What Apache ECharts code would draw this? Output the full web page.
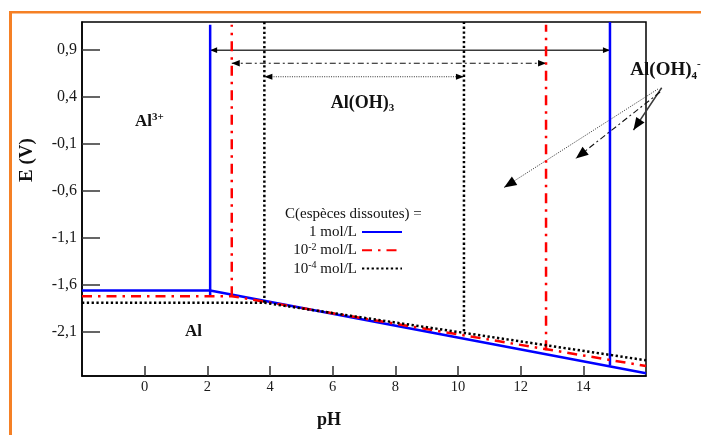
<!DOCTYPE html>
<html>
<head>
<meta charset="utf-8">
<script src="https://cdn.jsdelivr.net/npm/echarts@6.0.0/dist/echarts.min.js"></script>
<style>
html, body { margin: 0; padding: 0; background: #fff; }
#chart { width: 701px; height: 435px; }
</style>
</head>
<body>
<div id="chart"></div>
<script>
// one entry per total dissolved concentration
var concNames = ['1 mol/L', '10-2 mol/L', '10-4 mol/L'];
var concColors = ['#0000ff', '#ff0000', '#000000'];
var eAl3 = [-1.66, -1.72, -1.79];            // Al3+/Al plateau (V)
var pHprecip = [2.09, 2.78, 3.82];           // Al3+ -> Al(OH)3
var pHdissol = [14.85, 12.81, 10.19];        // Al(OH)3 -> Al(OH)4-
var eAtDissol = [-2.457, -2.297, -2.094];    // foot of the right vertical
var eAtRightEdge = [-2.54, -2.464, -2.403];  // E at pH 16
var eLeftFoot = [-1.72, -1.72, -1.79];
var eLeftTop = [1.17, 1.17, 1.2];
var eRightTop = [1.2, 1.17, 1.2];

// double arrows spanning the Al(OH)3 domain
var spanArrowE = [0.9, 0.76, 0.617];
// arrows from the Al(OH)4- label
var pointerFrom = [[16.5, 0.5], [16.45, 0.454], [16.38, 0.486]];
var pointerTo = [[15.6, 0.049], [13.76, -0.253], [11.47, -0.562]];

var yTicks = [-2.1, -1.6, -1.1, -0.6, -0.1, 0.4, 0.9];
var speciesText = ['Al{sup|3+}', 'Al(OH){sub|3}', 'Al(OH){sub|4}{sup|-}', 'Al'];
var speciesPos = [[-0.31, 0.134], [5.94, 0.336], [15.5, 0.688], [1.29, -2.102]];
var speciesSize = [17, 18, 19, 17];

var serif = '"Liberation Serif", "DejaVu Serif", serif';
var lineDash = ['solid', [10, 6, 2.5, 6], [2.3, 2.5]];
var arrowLine = [
  { stroke: '#3a3a3a', lineWidth: 1.5, lineDash: null },
  { stroke: '#111', lineWidth: 1.1, lineDash: [6, 3, 2, 3] },
  { stroke: '#333', lineWidth: 1, lineDash: [1, 1.3] }
];
var spanHead = [[7, 2.8], [8, 3.2], [8, 3]];

var series = [];
concNames.forEach(function (name, i) {
  var ls = { color: concColors[i], width: 2.5, type: lineDash[i] };
  var parts = [
    [[-2, eAl3[i]], [pHprecip[i], eAl3[i]], [16, eAtRightEdge[i]]],
    [[pHprecip[i], eLeftFoot[i]], [pHprecip[i], eLeftTop[i]]],
    [[pHdissol[i], eAtDissol[i]], [pHdissol[i], eRightTop[i]]]
  ];
  parts.forEach(function (d) {
    series.push({
      name: name, type: 'line', data: d, symbol: 'none',
      lineStyle: ls, itemStyle: { color: concColors[i] },
      animation: false, silent: true
    });
  });
});

function head(tip, from, len, half) {
  var dx = tip[0] - from[0], dy = tip[1] - from[1];
  var d = Math.sqrt(dx * dx + dy * dy);
  var ux = dx / d, uy = dy / d;
  var bx = tip[0] - ux * len, by = tip[1] - uy * len;
  return {
    type: 'polygon',
    shape: { points: [tip, [bx - uy * half, by + ux * half], [bx + uy * half, by - ux * half]] },
    style: { fill: '#000' }
  };
}

var arrowData = [];
for (var i = 0; i < 3; i++) {
  arrowData.push([pHprecip[i], spanArrowE[i], pHdissol[i], spanArrowE[i], i, 2]);
  arrowData.push([pointerFrom[i][0], pointerFrom[i][1], pointerTo[i][0], pointerTo[i][1], i, 1]);
}

series.push({
  type: 'custom',
  data: arrowData,
  animation: false, silent: true,
  renderItem: function (params, api) {
    var p1 = api.coord([api.value(0), api.value(1)]);
    var p2 = api.coord([api.value(2), api.value(3)]);
    var k = api.value(4);
    var both = api.value(5) === 2;
    var st = arrowLine[k];
    var hs = both ? spanHead[k] : [12.5, 5];
    var children = [{
      type: 'line',
      shape: { x1: p1[0], y1: p1[1], x2: p2[0], y2: p2[1] },
      style: { stroke: st.stroke, lineWidth: st.lineWidth, lineDash: st.lineDash }
    }, head(p2, p1, hs[0], hs[1])];
    if (both) children.push(head(p1, p2, hs[0], hs[1]));
    return { type: 'group', children: children };
  }
});

series.push({
  type: 'custom',
  data: speciesPos.map(function (p, i) { return [p[0], p[1], i]; }),
  animation: false, silent: true,
  renderItem: function (params, api) {
    var p = api.coord([api.value(0), api.value(1)]);
    var k = api.value(2);
    var fs = speciesSize[k];
    return {
      type: 'text', x: p[0], y: p[1],
      style: {
        text: speciesText[k], fill: '#111',
        fontFamily: serif, fontWeight: 'bold', fontSize: fs, lineHeight: fs + 4,
        align: 'left', verticalAlign: 'middle',
        rich: {
          sup: { fontFamily: serif, fontWeight: 'bold', fontSize: 11, lineHeight: 11, verticalAlign: 'top', fill: '#111' },
          sub: { fontFamily: serif, fontWeight: 'bold', fontSize: 11, lineHeight: 11, verticalAlign: 'bottom', fill: '#111' }
        }
      }
    };
  }
});

var chart = echarts.init(document.getElementById('chart'));
chart.setOption({
  animation: false,
  backgroundColor: '#fff',
  title: {
    text: 'C(espèces dissoutes) =',
    left: 285, top: 207, padding: 0,
    textStyle: { fontFamily: serif, fontWeight: 'normal', fontSize: 15, color: '#111' }
  },
  legend: {
    data: concNames,
    orient: 'vertical',
    align: 'right',
    left: 285, top: 224, padding: 0,
    itemWidth: 40, itemHeight: 14, itemGap: 2.3,
    selectedMode: false,
    itemStyle: { opacity: 0 },
    formatter: function (n) {
      var m = n.match(/^10(-\d) (.*)$/);
      if (m) return '{n|10}{s|' + m[1] + '}{n| ' + m[2] + '}';
      return '{n|' + n + '}';
    },
    textStyle: {
      fontFamily: serif, fontSize: 15, color: '#111', width: 72, lineHeight: 16,
      rich: {
        n: { fontFamily: serif, fontSize: 15, lineHeight: 16, align: 'right', color: '#111' },
        s: { fontFamily: serif, fontSize: 10, lineHeight: 10, align: 'right', verticalAlign: 'top', color: '#111' }
      }
    }
  },
  grid: {
    left: 82, top: 22, right: 55, bottom: 59,
    show: true, borderColor: '#000', borderWidth: 1.5, backgroundColor: 'transparent'
  },
  xAxis: {
    type: 'value', min: -2, max: 16, interval: 2,
    name: 'pH', nameLocation: 'middle', nameGap: 35,
    nameTextStyle: { fontFamily: serif, fontWeight: 'bold', fontSize: 18, color: '#111', padding: [0, 70, 0, 0] },
    axisLine: { show: true, onZero: false, lineStyle: { color: '#000', width: 1.5 } },
    axisTick: { show: true, inside: true, length: 10, lineStyle: { color: '#333', width: 1.5 } },
    axisLabel: { fontFamily: serif, fontSize: 14.5, color: '#1a1a1a', margin: 4, showMinLabel: false, showMaxLabel: false },
    splitLine: { show: false }
  },
  yAxis: {
    type: 'value', min: -2.57, max: 1.2,
    name: 'E (V)', nameLocation: 'middle', nameGap: 45,
    nameTextStyle: { fontFamily: serif, fontWeight: 'bold', fontSize: 19, color: '#111', padding: [0, 0, 0, 78] },
    axisLine: { show: true, onZero: false, lineStyle: { color: '#000', width: 1.5 } },
    axisTick: { show: true, inside: true, length: 18, customValues: yTicks, lineStyle: { color: '#333', width: 1.5 } },
    axisLabel: {
      customValues: yTicks, fontFamily: serif, fontSize: 16, color: '#1a1a1a', margin: 5,
      formatter: function (v) { return String(Math.round(v * 10) / 10).replace('.', ','); }
    },
    splitLine: { show: false }
  },
  graphic: [
    { type: 'rect', shape: { x: 9, y: 11, width: 692, height: 2.5 }, style: { fill: '#f58025' } },
    { type: 'rect', shape: { x: 9, y: 11, width: 3, height: 424 }, style: { fill: '#f58025' } }
  ],
  series: series
});
</script>
</body>
</html>
